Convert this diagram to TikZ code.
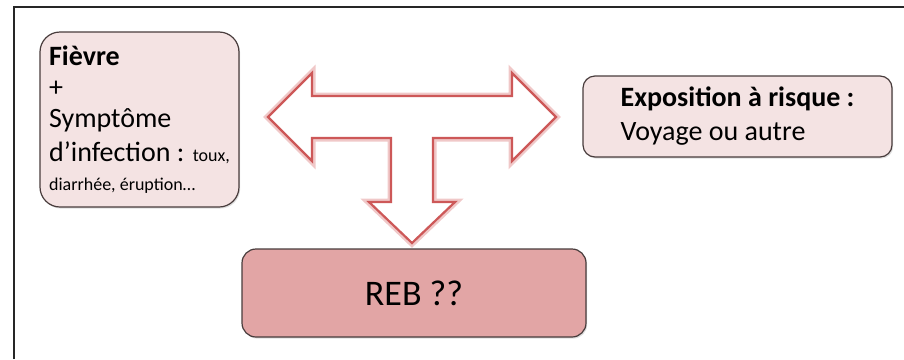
\documentclass[tikz,border=0pt]{standalone}
\usepackage{fontspec}
\setmainfont{Carlito}
\usepackage{tikz}
\usetikzlibrary{positioning, shadows}
\definecolor{myred}{RGB}{205,88,88}
\definecolor{myglow}{RGB}{240,200,200}
\definecolor{myborder}{RGB}{72,60,60}
\definecolor{hdrpink}{RGB}{244,227,227}
\definecolor{hdrrose}{RGB}{226,165,165}
\tikzset{
  infobox/.style={rectangle, draw=myborder, fill=hdrpink, align=left,
    line width=0.6pt, inner sep=2pt,
    drop shadow={opacity=0.25, shadow xshift=0.6pt, shadow yshift=-0.8pt}},
  rebbox/.style={rectangle, draw=myborder, fill=hdrrose, align=center,
    line width=0.6pt, rounded corners=7pt,
    drop shadow={opacity=0.25, shadow xshift=0.6pt, shadow yshift=-0.8pt}},
  bigarrow/.style={draw=myred, fill=white, line width=1.1pt, line join=miter,
    preaction={draw=myglow, line width=3.5pt}},
  frame/.style={line width=1pt, color=black!85}
}
\begin{document}
\begin{tikzpicture}[x=0.5pt, y=-0.5pt]
  \useasboundingbox (0,0) rectangle (904,359);
  % Frame (top and left only)
  \draw[frame] (14,359) -- (14,7) -- (904,7);

  % Symptoms
  \node[infobox, minimum width=99.5pt, minimum height=87.5pt, rounded corners=10pt,
    font=\fontsize{14}{15.5}\selectfont] (sympt) at (139.5,119.5)
    {\textbf{Fièvre}\\+\\Symptôme\\[1.5pt]d’infection : {\fontsize{9}{10}\selectfont toux,}\\[-1pt]
     {\fontsize{9}{10}\selectfont diarrhée, éruption…}};

  % Exposure
  \node[infobox, minimum width=154.5pt, minimum height=40.5pt, rounded corners=6pt,
    font=\fontsize{14}{17}\selectfont] (expo) at (737.5,116.5)
    {\textbf{Exposition à risque :}\\Voyage ou autre};

  % Result
  \node[rebbox, minimum width=172pt, minimum height=44pt,
    font=\fontsize{18}{20}\selectfont] (reb) at (414,293) {REB ??};

  % T-shaped block arrow
  \draw[bigarrow] (268,117) -- (312,73) -- (312,96) -- (512,96) -- (512,73)
    -- (556,117) -- (512,161) -- (512,138) -- (433,138) -- (433,202)
    -- (455,202) -- (412,243) -- (369,202) -- (391,202) -- (391,138)
    -- (312,138) -- (312,161) -- cycle;
\end{tikzpicture}
\end{document}
